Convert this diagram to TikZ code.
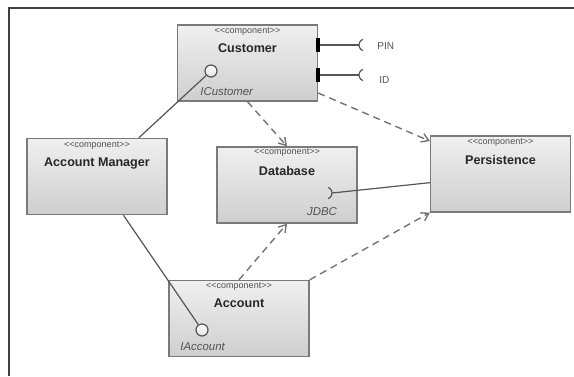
\documentclass[tikz,border=0pt]{standalone}
\usepackage{fontspec}
\setmainfont{Liberation Sans}
\usepackage{tikz}
\usetikzlibrary{arrows.meta}
\usetikzlibrary{positioning}
\definecolor{boxline}{HTML}{7A7A7A}
\definecolor{wiregray}{HTML}{555555}
\definecolor{labgray}{HTML}{505050}
\newcommand{\stereotxt}{<{}<component>{}>}
\tikzset{
	comp/.style={
			rectangle, draw=boxline, line width=0.7pt,
			top color=black!6, bottom color=black!19,
			minimum width=70pt, minimum height=38pt, inner sep=0pt
		},
	stereo/.style={font=\fontsize{4.5}{5}\selectfont, text=labgray, inner sep=0pt},
	cname/.style={font=\fontsize{6.3}{7}\selectfont\bfseries, text=black!85, inner sep=0pt}
}

\begin{document}
\begin{tikzpicture}[x=0.5pt,y=-0.5pt]
  \useasboundingbox (0,0) rectangle (574,376);
  \draw[black!75, line width=0.9pt] (574,8) -- (9,8) -- (9,376);

    \tikzstyle{wire}=[draw=wiregray, line width=0.6pt]
    \tikzstyle{dep}=[draw=black!55, line width=0.7pt, dash pattern=on 3.5pt off 2.5pt, -{Straight Barb[length=3.5pt,width=4.5pt]}]
    \tikzstyle{lolly}=[circle, draw=wiregray, line width=0.6pt, top color=white, bottom color=black!12, minimum size=6pt, inner sep=0pt]
    \tikzstyle{port}=[rectangle, fill=black, minimum width=2pt, minimum height=7pt, inner sep=0pt]
    \tikzstyle{iname}=[font=\fontsize{5.7}{6}\selectfont\itshape, text=labgray, inner sep=0pt]
    \tikzstyle{pname}=[font=\fontsize{5}{6}\selectfont, text=labgray, inner sep=0pt]

  \node[comp] (customer) at (247.5,63) {};
  \node[stereo] (customerst) at (247.5,32) {\stereotxt};
  \node[cname] (customername) at (247.5,48) {Customer};

  \node[comp] (manager) at (97,176.5) {};
  \node[stereo] (managerst) at (97,146) {\stereotxt};
  \node[cname] (managername) at (97,163) {Account Manager};

  \node[comp] (database) at (287,185) {};
  \node[stereo] (databasest) at (287,153) {\stereotxt};
  \node[cname] (databasename) at (287,171) {Database};

  \node[comp] (persistence) at (500.5,174) {};
  \node[stereo] (persistencest) at (500.5,143) {\stereotxt};
  \node[cname] (persistencename) at (500.5,160) {Persistence};

  \node[comp] (account) at (239,318.5) {};
  \node[stereo] (accountst) at (239,287) {\stereotxt};
  \node[cname] (accountname) at (239,303) {Account};

  \node[lolly] (icustomer) at (211,71) {};
  \node[iname, anchor=west] (icustomername) at (200,92) {ICustomer};
  \node[lolly] (iaccount) at (202,330) {};
  \node[iname, anchor=west] (iaccountname) at (180,347) {IAccount};

  \coordinate (jdbc) at (332,193);
  \node[iname] (jdbcname) at (322,212) {JDBC};
  \draw[wire] ([xshift=-3pt]jdbc) ++(70:3pt) arc[start angle=70, end angle=-70, radius=3pt];

  \node[port] (pinport) at (318,45) {};
  \node[port] (idport) at (318,75) {};
  \coordinate (pinsock) at (359,45);
  \coordinate (idsock) at (359,75);
  \draw[wire] ([xshift=3pt]pinsock) ++(110:3pt) arc[start angle=110, end angle=250, radius=3pt];
  \draw[wire] ([xshift=3pt]idsock) ++(110:3pt) arc[start angle=110, end angle=250, radius=3pt];
  \node[pname, anchor=west] (pinname) at (377,46) {PIN};
  \node[pname, anchor=west] (idname) at (379,80) {ID};

\path (icustomer) edge [wire] (manager);
\path (iaccount) edge [wire] (manager);
\path (pinport) edge [wire] (pinsock);
\path (idport) edge [wire] (idsock);
\path (jdbc) edge [wire] (persistence.187);
\path (customer.south) edge [dep] (database.north);
\path (account.north) edge [dep] (database.south);
\path (customer.-23) edge [dep] (persistence.155);
\path (account.north east) edge [dep] (persistence.south west);
    \end{tikzpicture}
\end{document}
